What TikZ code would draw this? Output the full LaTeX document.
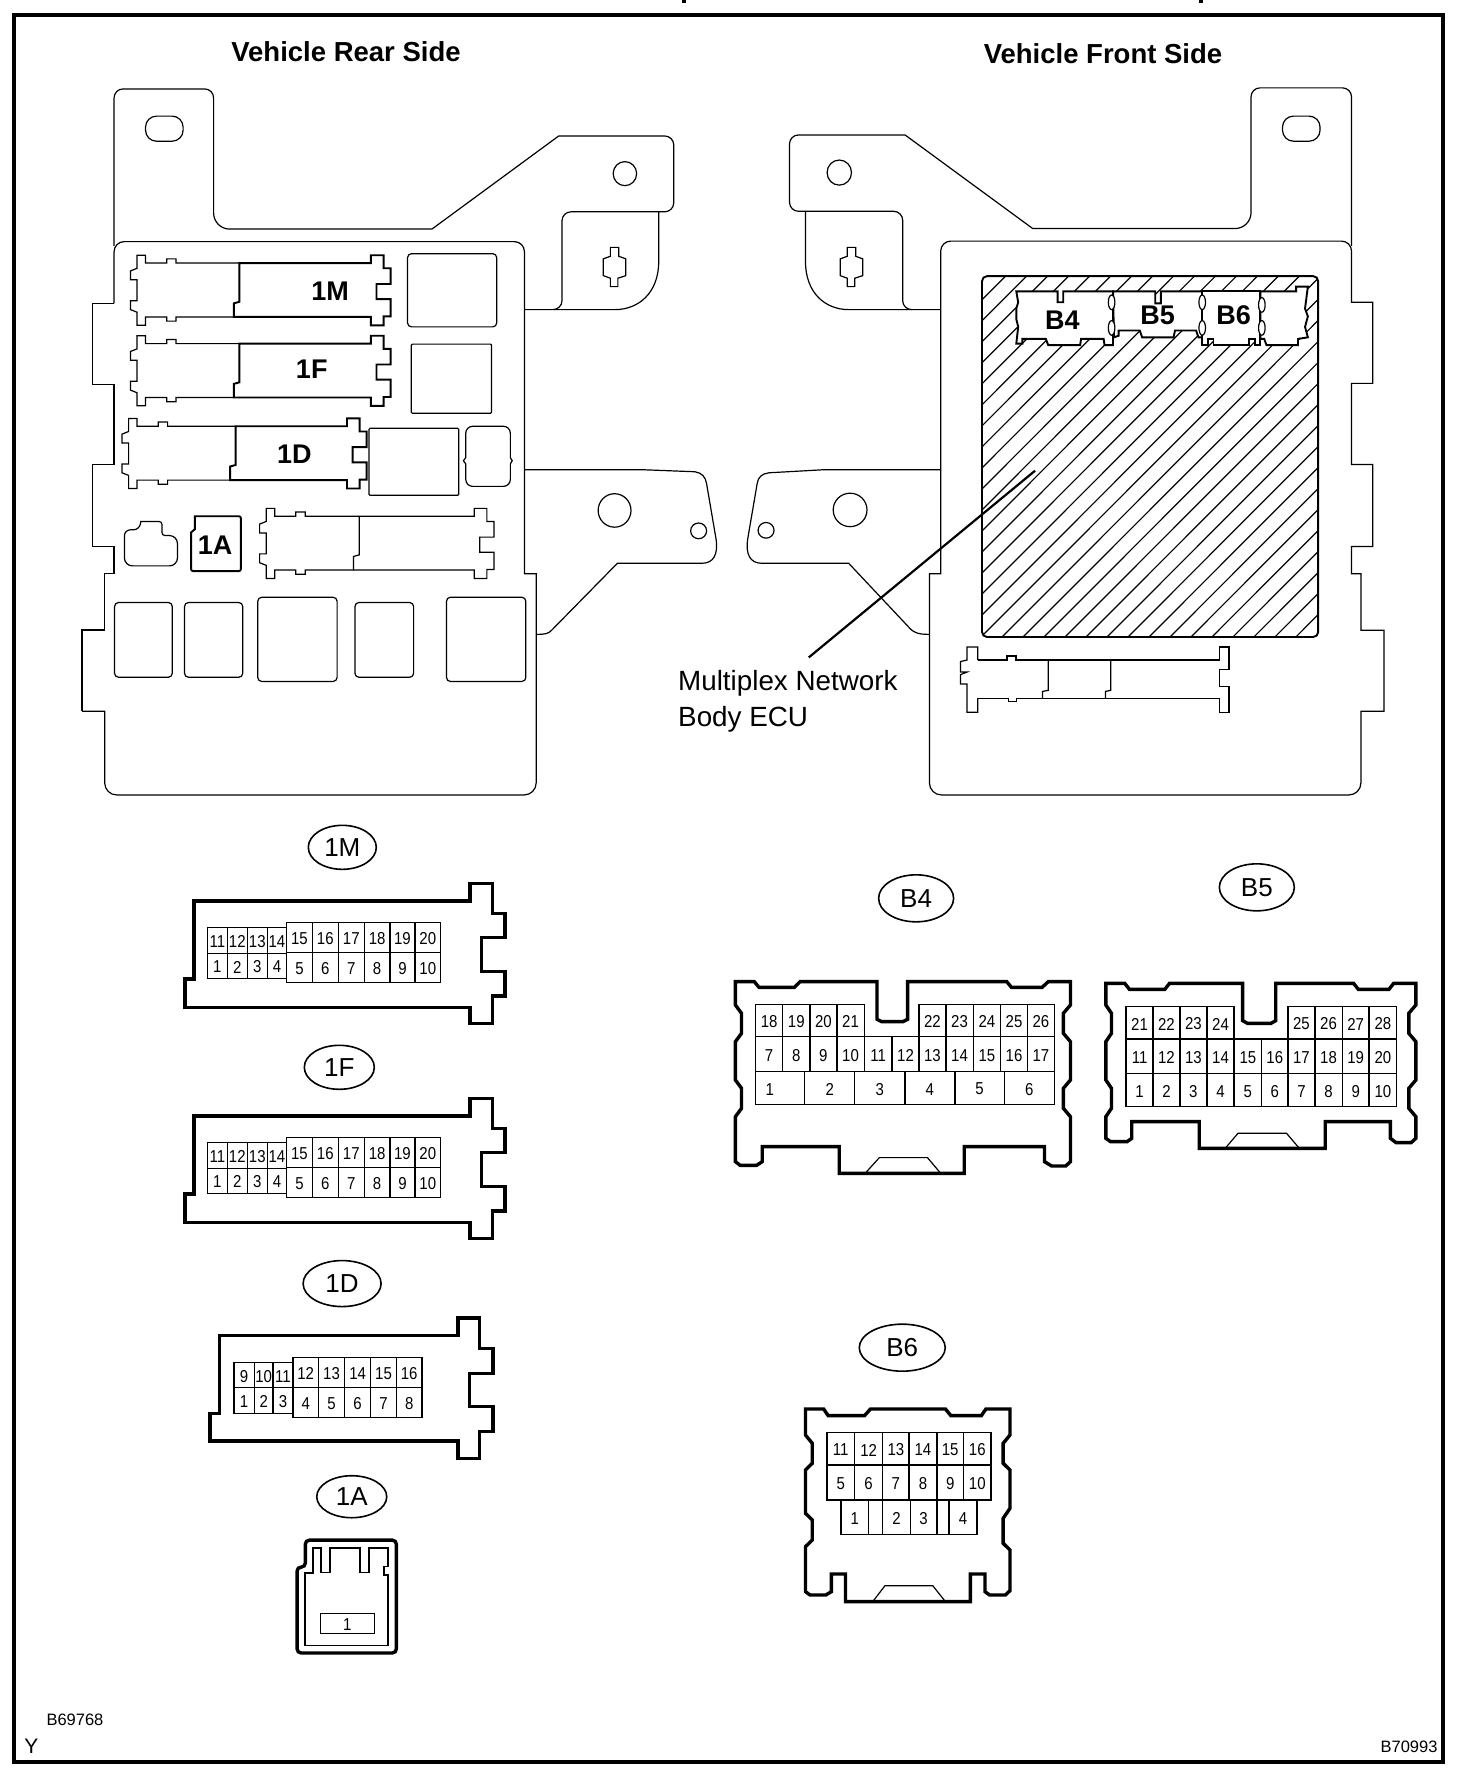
\documentclass[tikz,border=0pt]{standalone}
\usepackage{fontspec}
\setmainfont{Liberation Sans}
\usetikzlibrary{shapes.geometric}

\newcommand{\fz}[1]{\fontsize{#1}{#1}\selectfont}

% one row of numbered cavities: y from, y to, x start, {x end/label,...}
\newcommand{\pinrow}[4]{%
    \foreach \xb/\lab [remember=\xb as \xa (initially #3)] in {#4}
        \draw[pincell] (\xa,#1) rectangle node[pinlab]{\lab} (\xb,#2);
}
% connector tab seen in the block: x, y, split, end, style of the right part
\newcommand{\fusetab}[5]{%
    \begin{scope}[shift={(#1,#2)}]
        \draw[outln,fill=white] (#3,15) -- (83,15) -- (83,7) -- (63,7) -- (63,15) -- (18,15) -- (18,0) -- (0,0) -- (0,25)
            -- (-14,30) -- (-14,47) -- (0,47) -- (0,87) -- (-14,87) -- (-14,104) -- (0,109) -- (0,134) -- (18,134) -- (18,118)
            -- (63,118) -- (63,126) -- (83,126) -- (83,118) -- (#3-12,118);
        \draw[#5] (#3,15) -- (#4-27,15) -- (#4-27,0) -- (#4,0) -- (#4,25) -- (#4+15,25) -- (#4+15,55) -- (#4-15,55) -- (#4-15,84)
            -- (#4+15,84) -- (#4+15,117) -- (#4,117) -- (#4,134) -- (#4-27,134) -- (#4-27,118) -- (#3-12,118) -- (#3-12,92) -- (#3,89) -- cycle;
    \end{scope}
}
\newcommand{\keyhole}[2]{%
    \draw[outln,shift={(#1,#2)}] (-8,-37) -- (10,-37) -- (10,-20) -- (25,-15) -- (25,17) -- (8,22) -- (8,38) -- (-8,38)
        -- (-8,22) -- (-23,17) -- (-23,-15) -- (-8,-20) -- cycle;
}

\begin{document}
\begin{tikzpicture}[x=1pt, y=-1pt, line join=miter]
    \tikzstyle{outln}=[line width=1.2pt]
    \tikzstyle{midln}=[line width=1.9pt]
    \tikzstyle{thkln}=[line width=3.4pt]
    \tikzstyle{pincell}=[line width=1.4pt]
    \tikzstyle{pinlab}=[font=\fz{15}, inner sep=0pt, yscale=1.15, yshift=-1pt]
    \tikzstyle{sidetitle}=[font=\fz{27.5}\bfseries, inner sep=0pt]
    \tikzstyle{blocklab}=[font=\fz{27}\bfseries, inner sep=0pt]
    \tikzstyle{footlab}=[font=\fz{16.5}, inner sep=0pt]
    \tikzstyle{tagoval}=[draw, ellipse, line width=1.6pt, inner sep=0pt, minimum width=68pt, minimum height=44pt, font=\fz{26}]
    \tikzstyle{relaybox}=[outln, rounded corners=4pt]
    \tikzstyle{viewA}=[x=0.4695pt, y=-0.523pt]
    \tikzstyle{viewB}=[xshift=736pt, x=0.4695pt, y=-0.523pt]

    \useasboundingbox (0,0) rectangle (1472,1788);
    \fill[white] (0,0) rectangle (1472,1788);

    % frame and the cut off heading
    \draw[thkln] (14,15) rectangle (1443,1762);
    \fill (682,0) rectangle (686,3);
    \fill (1199,0) rectangle (1203,3);

    \node[sidetitle] (rearside) at (346,52) {Vehicle Rear Side};
    \node[sidetitle] (frontside) at (1103,54) {Vehicle Front Side};

    % rear view
    \begin{scope}[viewA]
        \draw[outln] (243,470) [rounded corners=9pt] -- (243,170) -- (455,170) [rounded corners=16pt] -- (455,438) [sharp corners] -- (920,438)
            -- (1190,260) [rounded corners=9pt] -- (1435,260) -- (1435,405) -- (1197,405) -- (1197,592) [sharp corners] -- (1117,592);
        \draw[outln] (1403,405) -- (1403,500) .. controls (1403,560) and (1360,592) .. (1310,592) -- (1180,592);
        \draw[outln,rounded corners=11pt] (310,222) rectangle (390,270);
        \draw[outln] (1331,332) ellipse [x radius=25, y radius=23];
        \keyhole{1308}{510}
        \draw[outln] (1117,898) -- (1365,898) -- (1480,902) .. controls (1495,904) and (1503,912) .. (1505,925) -- (1525,1030)
            .. controls (1530,1060) and (1520,1077) .. (1495,1077) -- (1315,1077) -- (1175,1205) .. controls (1168,1212) and (1160,1213) .. (1142,1213);
        \draw[outln] (1309,976) ellipse [x radius=35, y radius=32];
        \draw[outln] (1488,1015) ellipse [x radius=17, y radius=15];

        \draw[outln] (243,580) [rounded corners=10pt] -- (243,462) -- (1117,462) [sharp corners] -- (1117,1097) -- (1142,1097) [rounded corners=12pt] -- (1142,1520)
            -- (223,1520) [sharp corners] -- (223,1360) -- (175,1360);
        \draw[midln] (175,1360) -- (175,1205) -- (223,1205);
        \draw[outln] (223,1205) -- (223,1097) -- (243,1097) -- (243,1045) -- (197,1045) -- (197,888) -- (243,888) -- (243,735) -- (197,735) -- (197,580) -- (243,580);

        \fusetab{292}{488}{218}{525}{midln}
        \fusetab{292}{642}{218}{525}{midln}
        \fusetab{274}{800}{228}{492}{midln}
        \fusetab{567}{972}{198}{470}{outln}

        \draw[relaybox] (868,485) rectangle (1058,625);
        \draw[outln,rounded corners=1pt] (876,658) rectangle (1047,790);
        \draw[outln,rounded corners=1pt] (786,819) rectangle (977,947);
        \draw[outln] (992,875) [rounded corners=7pt] -- (992,815) -- (1087,815) [sharp corners] -- (1087,875) -- (1091,881) -- (1087,887)
            [rounded corners=7pt] -- (1087,930) -- (992,930) [sharp corners] -- (992,887) -- (987,881) -- cycle;
        \draw[relaybox] (244,1152) rectangle (367,1295);
        \draw[relaybox] (393,1152) rectangle (517,1295);
        \draw[relaybox] (549,1142) rectangle (718,1303);
        \draw[relaybox] (756,1152) rectangle (881,1295);
        \draw[relaybox] (951,1142) rectangle (1120,1303);

        \draw[outln,rounded corners=6pt] (265,1082) -- (265,1013) -- (297,1013) [sharp corners] -- (300,997) [rounded corners=3pt] -- (345,997) -- (345,1024) [rounded corners=8pt] -- (378,1024) -- (378,1082) -- cycle;
        \draw[midln] (415,987) [rounded corners=2pt] -- (513,987) -- (513,1092) -- (407,1092) [sharp corners] -- (407,1018) -- (415,1012) -- cycle;

        \node[blocklab] (lab1M) at (703,556) {1M};
        \node[blocklab] (lab1F) at (664,705) {1F};
        \node[blocklab] (lab1D) at (627,868) {1D};
        \node[blocklab] (lab1A) at (458,1042) {1A};
    \end{scope}

    % front view
    \begin{scope}[viewB]
        \draw[outln] (1311,470) [rounded corners=9pt] -- (1311,168) -- (1097,168) [rounded corners=16pt] -- (1097,437) [sharp corners] -- (632,437)
            -- (360,258) [rounded corners=9pt] -- (114,258) -- (114,404) -- (355,404) -- (355,592) [sharp corners] -- (436,592);
        \draw[outln] (148,404) -- (148,500) .. controls (148,560) and (190,592) .. (240,592) -- (375,592);
        \draw[outln,rounded corners=11pt] (1164,222) rectangle (1244,270);
        \draw[outln] (220,330) ellipse [x radius=26, y radius=24];
        \keyhole{245}{510}
        \draw[outln] (436,898) -- (190,898) -- (70,904) .. controls (55,906) and (47,912) .. (45,925) -- (25,1030)
            .. controls (20,1060) and (30,1077) .. (55,1077) -- (240,1077) -- (372,1203) .. controls (380,1210) and (390,1213) .. (412,1213);
        \draw[outln] (243,975) ellipse [x radius=36, y radius=32];
        \draw[outln] (64,1014) ellipse [x radius=17, y radius=15];

        \draw[outln] (436,1097) [rounded corners=10pt] -- (436,461) -- (1311,461) [sharp corners] -- (1311,578) -- (1356,578) -- (1356,733) -- (1311,733) -- (1311,888)
            -- (1356,888) -- (1356,1045) -- (1311,1045) -- (1311,1097) -- (1331,1097) -- (1331,1205) -- (1380,1205) -- (1380,1360) -- (1331,1360)
            [rounded corners=12pt] -- (1331,1520) -- (412,1520) [sharp corners] -- (412,1097) -- cycle;

        % the ECU with its hatching
        \begin{scope}
            \clip[rounded corners=5pt] (524,528) rectangle (1240,1218);
            \foreach \c in {0,...,35}
                \draw[outln] (-273.6+\c*44.7,1250) -- ++(1000,-899);
        \end{scope}
        \draw[midln,rounded corners=5pt] (524,528) rectangle (1240,1218);

        \draw[midln,fill=white] (805,645) -- (803,557) -- (893,557) -- (893,580) -- (905,580) -- (905,557) -- (993,557) -- (993,645) -- (985,645) -- (980,632) -- (935,632) -- (932,645) -- (865,645) -- (860,632) -- (815,632) -- (815,642) -- cycle;
        \draw[midln,fill=white] (597,557) -- (685,557) -- (685,578) -- (697,578) -- (697,557) -- (803,557) -- (803,660) -- (785,660) -- (783,648) -- (735,648) -- (733,660) -- (665,660) -- (660,648) -- (610,648) -- (610,657) -- (597,657) -- (601,625) -- (597,610) -- (597,590) -- (601,578) -- cycle;
        \draw[midln,fill=white] (1117,557) -- (1193,557) -- (1193,548) -- (1218,548) -- (1212,590) -- (1218,605) -- (1212,625) -- (1218,645) -- (1197,648) -- (1197,660) -- (1130,660) -- (1125,648) -- (1117,648) -- cycle;
        \draw[midln,fill=white] (993,557) -- (1117,557) -- (1117,660) -- (1105,660) -- (1105,648) -- (1093,648) -- (1093,660) -- (1017,660) -- (1017,648) -- (1005,648) -- (1005,660) -- (993,660) -- cycle;
        \foreach \xc/\yc in {800/578,800/627,993/578,993/627,1120/583,1120/627}
            \draw[outln,fill=white] (\xc,\yc) ellipse [x radius=7, y radius=14];
        \node[blocklab] (labB4) at (695,612) {B4};
        \node[blocklab] (labB5) at (898,603) {B5};
        \node[blocklab] (labB6) at (1060,602) {B6};

        % connector below the ECU
        \draw[outln] (515,1335) -- (515,1362) -- (492,1362) -- (492,1308) -- (478,1308) -- (478,1290) -- (492,1285) -- (478,1285) -- (478,1265) -- (492,1262) -- (492,1237) -- (515,1237) -- (515,1262);
        \draw[midln] (515,1262) -- (578,1262) -- (578,1255) -- (597,1255) -- (597,1262) -- (1030,1262);
        \draw[outln] (1030,1262) -- (1030,1237) -- (1050,1237) -- (1050,1280) -- (1030,1280) -- (1030,1312) -- (1050,1312) -- (1050,1362) -- (1030,1362) -- (1030,1335);
        \draw[outln] (1030,1335) -- (597,1335) -- (597,1342) -- (580,1342) -- (580,1335) -- (515,1335);
        \draw[outln] (665,1262) -- (665,1320) -- (653,1322) -- (653,1335);
        \draw[outln] (798,1262) -- (798,1320) -- (787,1322) -- (787,1335);

        \coordinate (ecutip) at (637,900);
        \coordinate (ecufoot) at (155,1257);
        \draw[midln,line width=2.2pt] (ecutip) -- (ecufoot);
    \end{scope}
    \node[font=\fz{27.8}, anchor=west, inner sep=0pt] (ecuname1) at (678,683) {Multiplex Network};
    \node[font=\fz{27.8}, anchor=west, inner sep=0pt] (ecuname2) at (678,719) {Body ECU};

    % 1M and 1F
    \begin{scope}[xshift=150pt, yshift=-820pt, x=0.3333pt, y=-0.3333pt]
        \node[tagoval] (tag1M) at (577,82) {1M};
        \node[tagoval, minimum width=70pt] (tag1F) at (568,742) {1F};
        \foreach \yo in {0,645} {
            \begin{scope}[shift={(0,\yo)}]
                \draw[thkln] (132,243) -- (960,243) -- (960,190) -- (1028,190) -- (1028,280) -- (1065,280) -- (1065,352) -- (995,352) -- (995,455) -- (1065,455)
                    -- (1065,528) -- (1028,528) -- (1028,610) -- (960,610) -- (960,562) -- (105,562) -- (105,477) -- (132,477) -- cycle;
                \pinrow{322}{400}{172}{232/11,292/12,352/13,410/14}
                \pinrow{400}{475}{172}{232/1,292/2,352/3,410/4}
                \pinrow{308}{398}{410}{487/15,565/16,643/17,720/18,795/19,872/20}
                \pinrow{398}{487}{410}{487/5,565/6,643/7,720/8,795/9,872/10}
            \end{scope}
        }
    \end{scope}

    % 1D and 1A
    \begin{scope}[yshift=-1260pt, x=0.3571pt, y=-0.3367pt]
        \node[tagoval, minimum width=78pt, minimum height=46pt] (tag1D) at (958,70) {1D};
        \draw[thkln] (615,225) -- (1282,225) -- (1282,172) -- (1343,172) -- (1343,263) -- (1380,263) -- (1380,337) -- (1315,337) -- (1315,435) -- (1380,435)
            -- (1380,510) -- (1343,510) -- (1343,590) -- (1282,590) -- (1282,538) -- (588,538) -- (588,455) -- (615,455) -- cycle;
        \pinrow{305}{378}{655}{712/9,765/10,820/11}
        \pinrow{378}{455}{655}{712/1,765/2,820/3}
        \pinrow{290}{378}{820}{892/12,965/13,1038/14,1110/15,1182/16}
        \pinrow{378}{467}{820}{892/4,965/5,1038/6,1110/7,1182/8}

        \node[tagoval, minimum width=70pt, minimum height=42pt] (tag1A) at (985,703) {1A};
        \draw[thkln,rounded corners=4pt] (855,912) -- (855,832) -- (1110,832) -- (1110,1167) -- (832,1167) -- (832,912) -- cycle;
        \draw[outln,line width=1.8pt] (877,855) -- (900,855) -- (900,928) -- (925,928) -- (925,855) -- (1008,855) -- (1008,928) -- (1033,928) -- (1033,855) -- (1087,855) -- (1087,910) -- (1075,910)
            -- (1075,935) -- (1087,935) -- (1087,1145) -- (853,1145) -- (853,930) -- (877,930) -- cycle;
        \pinrow{1050}{1110}{897}{1048/1}

        \node[footlab] (drawno1) at (210,1367) {B69768};
        \node[font=\fz{21}, inner sep=0pt] (markY) at (88,1445) {Y};
    \end{scope}

    % B4 and B5
    \begin{scope}[xshift=700pt, yshift=-860pt, x=0.4719pt, y=-0.3333pt]
        \node[tagoval, minimum width=75pt, minimum height=47pt] (tagB4) at (458,115) {B4};
        \node[tagoval, minimum width=75pt, minimum height=47pt] (tagB5) at (1180,82) {B5};

        \draw[thkln] (75,365) -- (115,365) -- (125,382) -- (200,382) -- (212,365) -- (375,365) -- (375,478) -- (385,485) -- (430,485) -- (440,478) -- (440,365)
            -- (650,365) -- (660,382) -- (725,382) -- (738,365) -- (785,365) -- (785,435) -- (770,460) -- (770,520) -- (785,545) -- (785,660) -- (770,685)
            -- (770,745) -- (785,770) -- (785,905) -- (775,918) -- (745,918) -- (730,905) -- (730,860) -- (560,860) -- (560,940) -- (295,940) -- (295,860)
            -- (132,860) -- (132,905) -- (120,916) -- (85,916) -- (75,905) -- (75,770) -- (88,745) -- (88,685) -- (75,660) -- (75,545) -- (88,520) -- (88,460) -- (75,435) -- cycle;
        \draw[outln] (350,940) -- (380,893) -- (482,893) -- (510,940);
        \pinrow{433}{530}{118}{175/18,233/19,290/20,348/21}
        \pinrow{433}{530}{464}{521/22,579/23,637/24,694/25,751/26}
        \pinrow{530}{635}{118}{175/7,233/8,290/9,348/10,407/11,464/12,521/13,579/14,637/15,694/16,751/17}
        \pinrow{635}{733}{222}{328/2,434/3,540/4,645/5,751/6}
        \draw[pincell] (118,635) rectangle (222,733);
        \node[pinlab] (pin1B4) at (148,686) {1};

        \draw[thkln] (860,370) -- (900,370) -- (910,388) -- (985,388) -- (995,370) -- (1150,370) -- (1150,482) -- (1160,490) -- (1210,490) -- (1220,482) -- (1220,370)
            -- (1385,370) -- (1395,388) -- (1460,388) -- (1470,370) -- (1517,370) -- (1517,435) -- (1502,460) -- (1502,520) -- (1517,545) -- (1517,660) -- (1502,685)
            -- (1502,745) -- (1517,770) -- (1517,835) -- (1507,848) -- (1475,848) -- (1463,835) -- (1463,785) -- (1325,785) -- (1325,865) -- (1058,865) -- (1058,785)
            -- (915,785) -- (915,835) -- (905,845) -- (870,845) -- (860,835) -- (860,770) -- (872,745) -- (872,685) -- (860,660) -- (860,545) -- (872,520) -- (872,460) -- (860,435) -- cycle;
        \draw[outln] (1113,865) -- (1140,820) -- (1243,820) -- (1270,865);
        \pinrow{440}{537}{903}{960/21,1017/22,1074/23,1132/24}
        \pinrow{440}{537}{1246}{1303/25,1361/26,1418/27,1476/28}
        \pinrow{537}{641}{903}{960/11,1017/12,1074/13,1132/14,1190/15,1246/16,1303/17,1361/18,1418/19,1476/20}
        \pinrow{641}{740}{903}{960/1,1017/2,1074/3,1132/4,1190/5,1246/6,1303/7,1361/8,1418/9,1476/10}
    \end{scope}

    % B6
    \begin{scope}[xshift=760pt, yshift=-1300pt, x=0.4545pt, y=-0.3333pt]
        \node[tagoval, minimum width=86pt, minimum height=47pt] (tagB6) at (313,143) {B6};
        \draw[thkln] (100,327) -- (140,327) -- (150,347) -- (230,347) -- (243,327) -- (408,327) -- (420,347) -- (487,347) -- (497,327) -- (550,327) -- (550,405) -- (535,430)
            -- (535,490) -- (550,510) -- (550,625) -- (535,655) -- (535,730) -- (550,750) -- (550,872) -- (540,885) -- (505,885) -- (495,875) -- (495,822) -- (463,822) -- (463,905)
            -- (188,905) -- (188,822) -- (157,822) -- (157,875) -- (145,885) -- (110,885) -- (100,875) -- (100,740) -- (115,720) -- (115,660) -- (100,640) -- (100,510) -- (115,490) -- (115,430) -- (100,405) -- cycle;
        \draw[outln] (248,905) -- (275,857) -- (380,857) -- (408,905);
        \pinrow{398}{495}{147}{208/11,270/12,328/13,389/14,448/15,508/16}
        \pinrow{495}{600}{147}{208/5,270/6,328/7,389/8,448/9,508/10}
        \pinrow{602}{703}{178}{239/1,270/{},331/2,389/3,416/{},477/4}

        \node[footlab] (drawno2) at (1428,1342) {B70993};
    \end{scope}
\end{tikzpicture}
\end{document}
